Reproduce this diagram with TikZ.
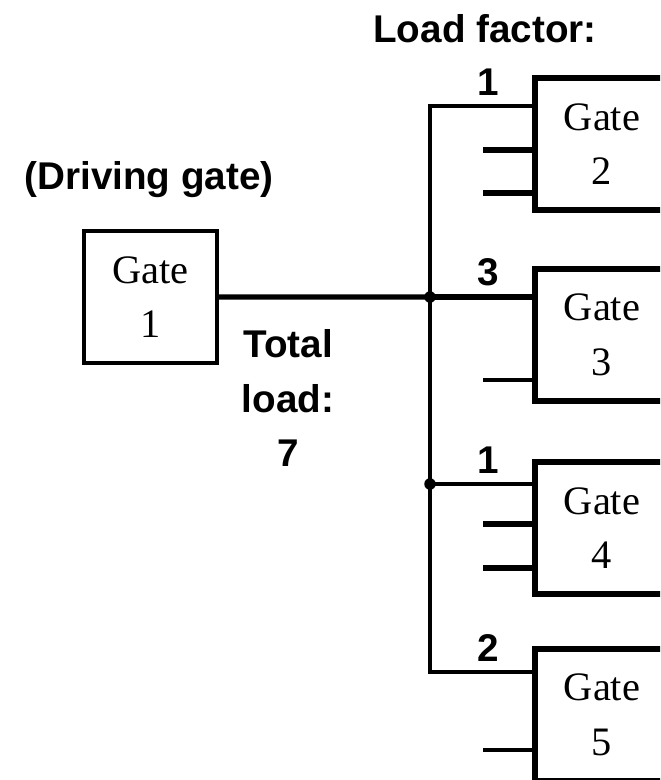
\documentclass[tikz,border=0pt]{standalone}
\usepackage{fontspec}
\setmainfont{Liberation Serif}
\setsansfont{Liberation Sans}
\usetikzlibrary{positioning}

\tikzset{
  gate/.style={draw, rectangle, line width=2.9pt, outer sep=0pt, minimum width=2.68cm, minimum height=2.64cm,
    align=center, inner sep=0pt, font=\fontsize{23}{31}\selectfont},
  lbl/.style={font=\sffamily\bfseries\fontsize{22}{31}\selectfont, inner sep=1pt},
  wire/.style={line width=2.1pt},
  stub/.style={line width=3pt},
  dot/.style={circle, fill, inner sep=0pt, minimum size=0.23cm}
}

\begin{document}
\begin{tikzpicture}[x=0.02cm, y=-0.02cm]
  \clip (0,0) rectangle (660,780);
  \node[gate, line width=2.1pt, minimum width=2.66cm, anchor=north west] (g1) at (84,231) {Gate\\1};
  \node[lbl] (drv) at (149,180) {(Driving gate)};
  \node[gate, anchor=north west] (g2) at (535,78) {Gate\\2};
  \node[gate, anchor=north west] (g3) at (535,269) {Gate\\3};
  \node[gate, anchor=north west] (g4) at (535,462) {Gate\\4};
  \node[gate, anchor=north west] (g5) at (535,649) {Gate\\5};
  \node[lbl] (lf) at (485,29) {Load factor:};
  \node[lbl, align=center, inner sep=0pt] (tot) at (288,398) {Total\\load:\\7};
  \coordinate (j1) at (430,106);
  \coordinate (j2) at (430,297);
  \coordinate (j3) at (430,484);
  \coordinate (j4) at (430,672);
  % bus
  \draw[wire, line join=miter] (j1 -| g2.west) -- node[lbl, above=4pt, pos=0.45] {1} (j1) -- (j4)
    -- node[lbl, above=4pt, pos=0.55] {2} (j4 -| g5.west);
  \draw[stub] (g1.east) -- (j2);
  \draw[stub] (j2) -- node[lbl, above=4pt, pos=0.55] {3} (j2 -| g3.west);
  \draw[wire] (j3) -- node[lbl, above=4pt, pos=0.55] {1} (j3 -| g4.west);
  \node[dot] (d2) at (j2) {};
  \node[dot] (d3) at (j3) {};
  % unused inputs
  \coordinate (s21) at (483,150);
  \coordinate (s22) at (483,193);
  \coordinate (s31) at (483,380);
  \coordinate (s41) at (483,524);
  \coordinate (s42) at (483,568);
  \coordinate (s51) at (483,750);
  \draw[stub] (s21) -- (s21 -| g2.west);
  \draw[stub] (s22) -- (s22 -| g2.west);
  \draw[wire] (s31) -- (s31 -| g3.west);
  \draw[stub] (s41) -- (s41 -| g4.west);
  \draw[stub] (s42) -- (s42 -| g4.west);
  \draw[wire] (s51) -- (s51 -| g5.west);
\end{tikzpicture}
\end{document}
